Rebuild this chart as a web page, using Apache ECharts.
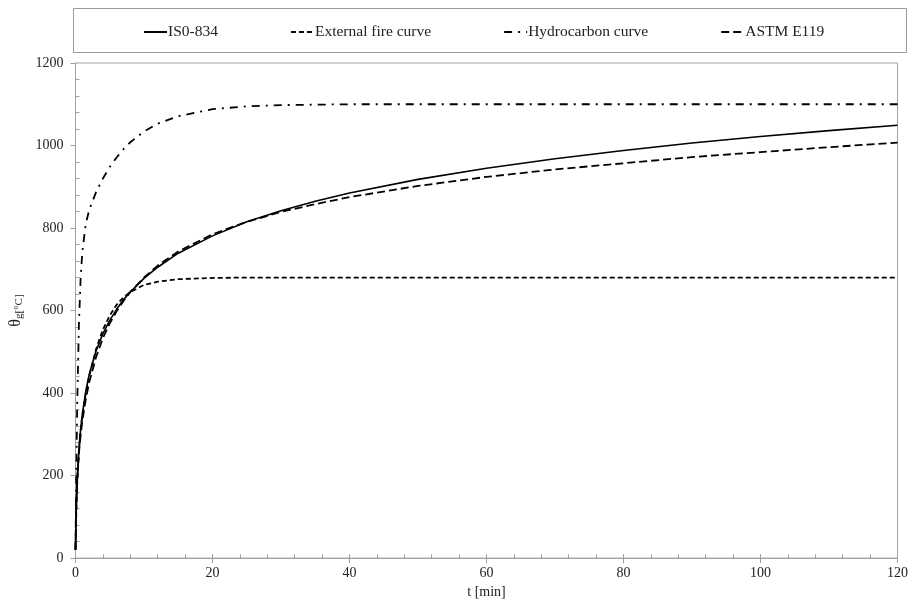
<!DOCTYPE html>
<html>
<head>
<meta charset="utf-8">
<script src="https://cdn.jsdelivr.net/npm/echarts@6/dist/echarts.min.js"></script>
<style>html,body{margin:0;padding:0;background:#fff;}#c{width:911px;height:604px;}</style>
</head>
<body>
<div id="c"></div>
<script>
// time in minutes
var times = [0, 0.1, 0.25, 0.5, 0.75, 1, 1.5, 2, 3, 4, 5, 6, 7, 8, 10, 12, 15, 20, 25, 30, 35, 40, 50, 60, 70, 80, 90, 100, 110, 120];
// gas temperature [°C]
var iso834 = [20, 108, 185, 261, 312, 349, 404, 445, 502, 544, 576, 603, 626, 645, 678, 705, 739, 781, 815, 842, 865, 885, 918, 945, 968, 988, 1006, 1022, 1036, 1049];
var externalFire = [20, 100, 182, 263, 311, 346, 399, 441, 506, 554, 588, 614, 632, 645, 662, 670, 676, 679, 680, 680, 680, 680, 680, 680, 680, 680, 680, 680, 680, 680];
var hydrocarbon = [20, 187, 373, 568, 679, 743, 810, 844, 887, 920, 948, 971, 991, 1008, 1034, 1053, 1071, 1088, 1095, 1098, 1099, 1100, 1100, 1100, 1100, 1100, 1100, 1100, 1100, 1100];
var astmE119 = [20, 135, 194, 255, 298, 333, 385, 426, 487, 533, 569, 598, 623, 645, 680, 709, 743, 785, 815, 839, 858, 875, 902, 924, 942, 957, 972, 984, 996, 1007];
var seriesNames = ['IS0-834', 'External fire curve', 'Hydrocarbon curve', 'ASTM E119'];

function pairs(vals) { return times.map(function (t, i) { return [t, vals[i]]; }); }

var FONT = 'Liberation Serif';
var GRAY = '#a0a0a0';
var TXT = '#222';
var chart = echarts.init(document.getElementById('c'));
var base = { type: 'line', showSymbol: false, symbol: 'none', smooth: false, animation: false, xAxisIndex: 0, yAxisIndex: 0 };
var noLabel = { show: false };
chart.setOption({
  animation: false,
  backgroundColor: '#fff',
  textStyle: { fontFamily: FONT },
  graphic: [{ type: 'rect', shape: { x: 73.5, y: 8.5, width: 833, height: 44 }, style: { fill: 'none', stroke: '#9a9a9a', lineWidth: 1 } }],
  legend: {
    data: seriesNames, top: 19, left: 138, itemGap: 72, itemWidth: 23, itemHeight: 10,
    itemStyle: { opacity: 0 },
    textStyle: { fontFamily: FONT, fontSize: 15.5, color: TXT, padding: [0, 0, 0, -4] }
  },
  grid: { left: 75, right: 13, top: 63, bottom: 45, show: true, borderColor: GRAY, borderWidth: 1 },
  xAxis: [{
    type: 'value', min: 0, max: 120, interval: 20,
    name: 't [min]', nameLocation: 'middle', nameGap: 24,
    nameTextStyle: { fontFamily: FONT, fontSize: 14, color: TXT },
    axisLine: { lineStyle: { color: GRAY } },
    axisTick: { show: true, length: 5, lineStyle: { color: GRAY } },
    minorTick: { show: false },
    splitLine: { show: false },
    axisLabel: { fontFamily: FONT, fontSize: 14, color: TXT, margin: 8 }
  }, {
    type: 'value', min: 0, max: 120, interval: 20, position: 'bottom',
    axisLine: { show: false },
    axisTick: { show: true, inside: true, length: 4, lineStyle: { color: GRAY } },
    minorTick: { show: true, splitNumber: 5, length: 4, lineStyle: { color: GRAY } },
    splitLine: { show: false },
    axisLabel: noLabel
  }],
  yAxis: [{
    type: 'value', min: 0, max: 1200, interval: 200,
    name: '{a|θ}{b|g[°C]}', nameLocation: 'middle', nameGap: 51, nameRotate: 90,
    nameTextStyle: { rich: { a: { fontFamily: FONT, fontSize: 16, color: TXT }, b: { fontFamily: FONT, fontSize: 11, color: TXT, padding: [6, 0, 0, 0] } } },
    axisLine: { show: true, lineStyle: { color: GRAY } },
    axisTick: { show: true, length: 5, lineStyle: { color: GRAY } },
    minorTick: { show: false },
    splitLine: { show: false },
    axisLabel: { fontFamily: FONT, fontSize: 14, color: TXT, margin: 12, formatter: function (v) { return String(v); } }
  }, {
    type: 'value', min: 0, max: 1200, interval: 200, position: 'left',
    axisLine: { show: false },
    axisTick: { show: true, inside: true, length: 0, lineStyle: { color: GRAY } },
    minorTick: { show: true, splitNumber: 5, length: 4, lineStyle: { color: GRAY } },
    splitLine: { show: false },
    axisLabel: noLabel
  }],
  series: [
    Object.assign({}, base, { name: seriesNames[0], data: pairs(iso834), z: 4, lineStyle: { color: '#000', width: 1.6, type: 'solid' }, itemStyle: { color: '#000' } }),
    Object.assign({}, base, { name: seriesNames[1], data: pairs(externalFire), z: 3, lineStyle: { color: '#000', width: 1.8, type: [5, 3] }, itemStyle: { color: '#000' } }),
    Object.assign({}, base, { name: seriesNames[2], data: pairs(hydrocarbon), z: 2, lineStyle: { color: '#000', width: 1.8, type: [8, 6, 2, 6] }, itemStyle: { color: '#000' } }),
    Object.assign({}, base, { name: seriesNames[3], data: pairs(astmE119), z: 3, lineStyle: { color: '#000', width: 1.8, type: [8, 4] }, itemStyle: { color: '#000' } })
  ]
});
</script>
</body>
</html>
